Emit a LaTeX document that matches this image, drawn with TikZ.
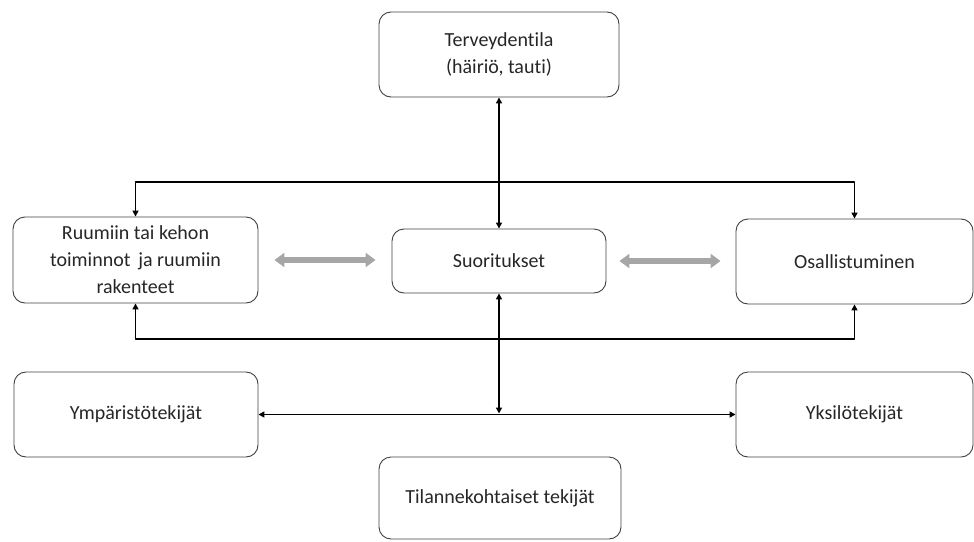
\documentclass[tikz,border=0pt]{standalone}
\usepackage{fontspec}
\setmainfont{Carlito}[Ligatures=CommonOff]
\usetikzlibrary{arrows.meta}

\begin{document}
\begin{tikzpicture}[x=1pt,y=-1pt,>={Triangle[length=6pt,width=6pt]},line join=round,
		box/.style={draw=black!75,line width=0.9pt,rounded corners=12pt,align=center,
			text=black!85,font=\fontsize{20}{27}\selectfont,inner sep=0pt},
		link/.style={<->,black,line width=1.7pt},
		twin/.style={{Triangle[length=10pt,width=14pt]}-{Triangle[length=10pt,width=14pt]},
			black!35,line width=6pt}]
	\useasboundingbox (0,0) rectangle (974,541);
	
	% boxes
	\node[box,minimum width=240pt,minimum height=85pt] (terv) at (499,54.5) {Terveydentila\\(häiriö, tauti)};
	\node[box,minimum width=245pt,minimum height=86pt] (ruum) at (135.5,260) {Ruumiin tai kehon\\toiminnot\, ja ruumiin\\rakenteet};
	\node[box,minimum width=214pt,minimum height=64pt] (suor) at (499,261) {Suoritukset};
	\node[box,minimum width=237pt,minimum height=85pt] (osal) at (854.5,261.5) {Osallistuminen};
	\node[box,minimum width=244pt,minimum height=85pt] (ymp) at (136,414.5) {Ympäristötekijät};
	\node[box,minimum width=237pt,minimum height=85pt] (yks) at (854.5,414.5) {Yksilötekijät};
	\node[box,minimum width=242pt,minimum height=82pt] (tila) at (500,498) {Tilannekohtaiset tekijät};
	
	% anchors
	\coordinate (hi) at (499,182);
	\coordinate (lo) at (499,339);
	\coordinate (mid) at (499,413.5);
	
	% connectors
	\draw[link] (terv.south) -- (suor.north);
	\draw[link] (ruum.north) |- (hi) -| (osal.north);
	\draw[link] (ruum.south) |- (lo) -| (osal.south);
	\draw[link] (suor.south) -- (mid);
	\draw[link] (ymp.east) -- (yks.west);
	
	% grey arrows
	\draw[twin,shorten <=16pt,shorten >=16pt] (ruum.east) -- (ruum.east -| suor.west);
	\draw[twin,shorten <=13pt,shorten >=15pt] (suor.east) -- (suor.east -| osal.west);
\end{tikzpicture}
\end{document}
